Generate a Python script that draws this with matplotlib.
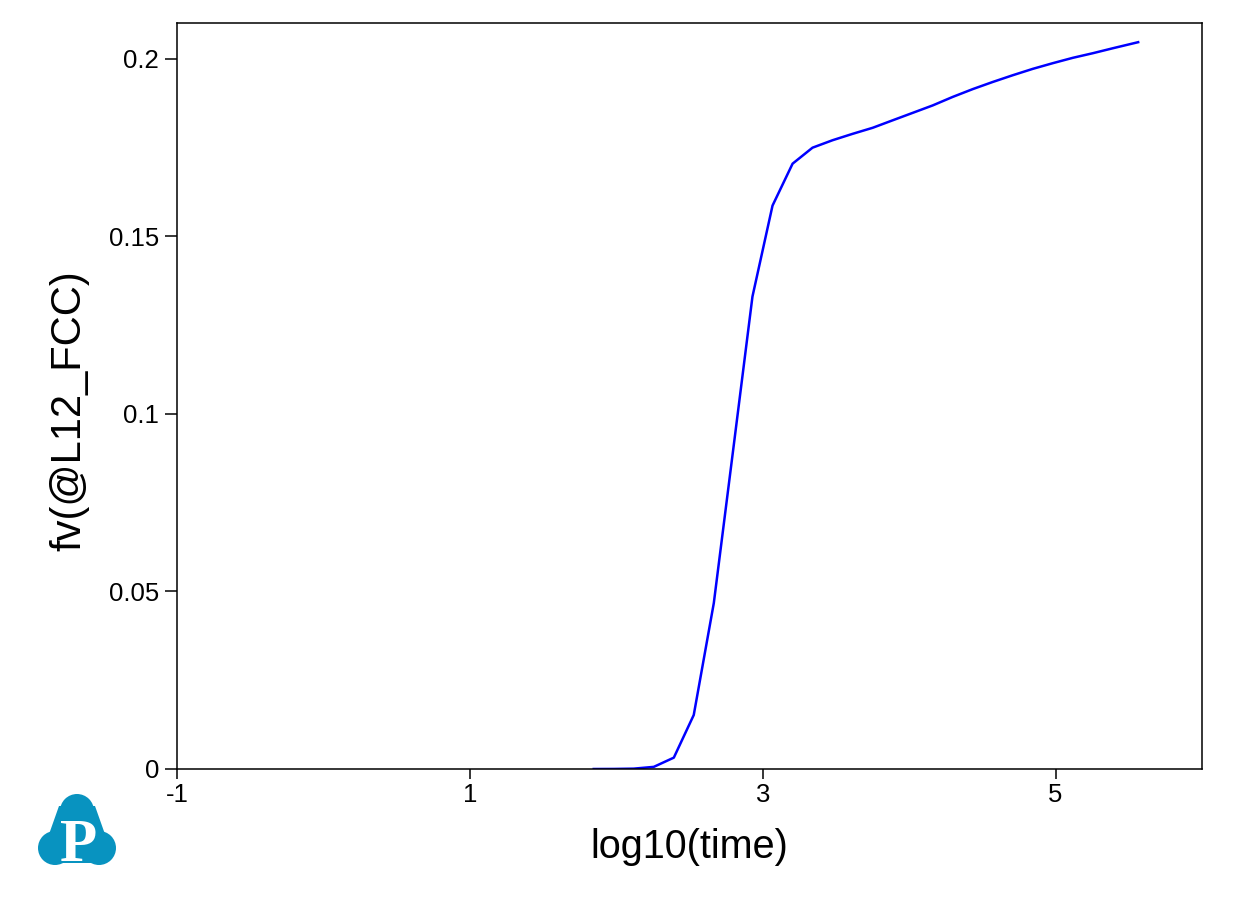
#!/usr/bin/env python3
import matplotlib

matplotlib.use("Agg")
import matplotlib.pyplot as plt
from matplotlib.patches import Circle, Polygon

plt.rcParams["font.family"] = ["Liberation Sans", "DejaVu Sans"]

# Data
log_time = [
    1.846, 1.983, 2.119, 2.256, 2.393, 2.529, 2.666, 2.807, 2.930, 3.067,
    3.204, 3.340, 3.477, 3.614, 3.751, 3.887, 4.024, 4.161, 4.298, 4.435,
    4.571, 4.708, 4.845, 4.982, 5.118, 5.255, 5.392, 5.564,
]
fv_l12 = [
    0.0, 0.00002, 0.0001, 0.0006, 0.0032, 0.0152, 0.0467, 0.0927, 0.1330, 0.1586,
    0.1704, 0.1749, 0.1770, 0.1788, 0.1805, 0.1826, 0.1847, 0.1868, 0.1892, 0.1914,
    0.1934, 0.1953, 0.1971, 0.1987, 0.2002, 0.2015, 0.2029, 0.2046,
]
xticks = [-1, 1, 3, 5]
yticks = [0, 0.05, 0.1, 0.15, 0.2]
ytick_labels = ["0", "0.05", "0.1", "0.15", "0.2"]

W, H = 1234, 907
fig = plt.figure(figsize=(W / 100, H / 100), dpi=100)
ax = fig.add_axes([177 / W, 1 - 769 / H, (1202 - 177) / W, (769 - 23) / H])

ax.plot(log_time, fv_l12, color="#0000FF", lw=1.8)

ax.set_xlim(-1, 6)
ax.set_ylim(0, 0.21)
ax.set_xticks(xticks)
ax.set_xticklabels([str(v) for v in xticks])
ax.set_yticks(yticks)
ax.set_yticklabels(ytick_labels)
ax.tick_params(axis="both", direction="out", width=1.1, labelsize=18.5)
ax.tick_params(axis="x", length=7, pad=3)
ax.tick_params(axis="y", length=9, pad=4)
for s in ax.spines.values():
    s.set_linewidth(1.1)

ax.set_xlabel("log10(time)", fontsize=28.5, labelpad=15)
ax.set_ylabel("fv(@L12_FCC)", fontsize=30)
ax.yaxis.set_label_coords(-0.085, 0.48)

# Logo in the lower left corner
lax = fig.add_axes([38 / W, (H - 866) / H, 78 / W, 73 / H])
lax.set_xlim(0, 78)
lax.set_ylim(0, 73)
lax.axis("off")
logo_blue = "#0893C0"
for cx, cy in [(17, 18), (61, 18), (39, 55)]:
    lax.add_patch(Circle((cx, cy), 17, color=logo_blue, lw=0))
lax.add_patch(Polygon([(4, 12), (17, 3), (61, 3), (74, 12), (57, 60), (21, 60)],
                      closed=True, color=logo_blue, lw=0))
lax.text(41, 5, "P", color="white", fontsize=44, fontweight="bold",
         family="Liberation Serif", ha="center", va="baseline")

fig.savefig("out.png", dpi=100)
